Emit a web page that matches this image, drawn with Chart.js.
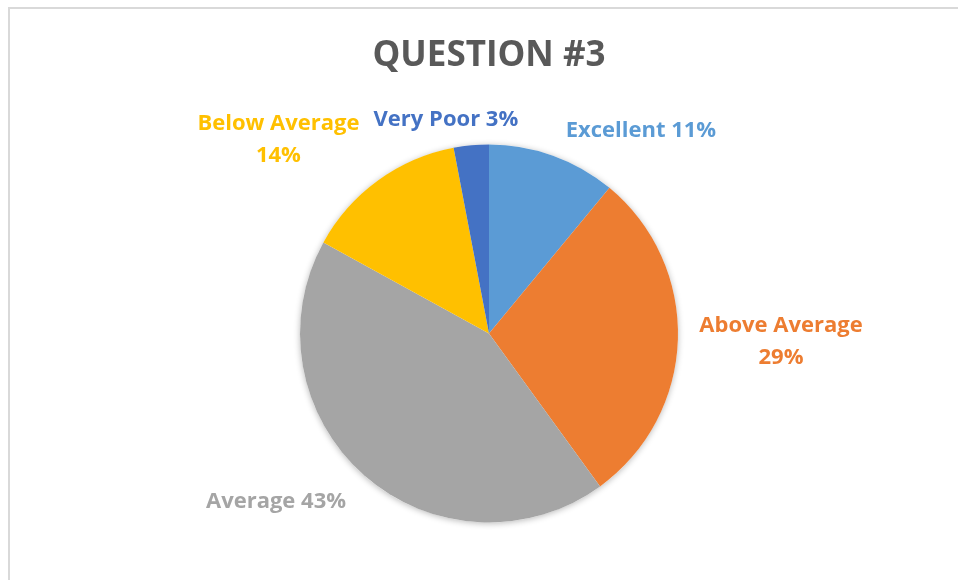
<!DOCTYPE html>
<html>
<head>
<meta charset="utf-8">
<script src="https://cdn.jsdelivr.net/npm/chart.js@4/dist/chart.umd.min.js"></script>
<style>
  html, body { margin: 0; padding: 0; background: #fff; overflow: hidden; }
  #ramka {
    position: absolute; left: 8px; top: 7px; width: 1000px; height: 700px;
    border: 2px solid #d9d9d9; box-sizing: border-box;
  }
  #wrap { position: absolute; left: 0; top: 0; width: 958px; height: 580px; }
</style>
</head>
<body>
<div id="ramka"></div>
<div id="wrap"><canvas id="wykres"></canvas></div>
<script>
// Dane wykresu
const kategorie = ["Excellent", "Above Average", "Average", "Below Average", "Very Poor"];
const procenty = [11, 29, 43, 14, 3];
const kolory = ["#5B9BD5", "#ED7D31", "#A5A5A5", "#FFC000", "#4472C4"];
const tytul = "QUESTION #3";

// Położenie etykiet względem środka koła (w promieniach) i podział na linie
const etykietyPoz = [
  { dx: 0.804, dy: -1.074, linie: ["Excellent 11%"] },
  { dx: 1.545, dy: 0.045, linie: ["Above Average", "29%"] },
  { dx: -1.127, dy: 0.892, linie: ["Average 43%"] },
  { dx: -1.114, dy: -1.026, linie: ["Below Average", "14%"] },
  { dx: -0.228, dy: -1.13, linie: ["Very Poor 3%"] }
];

const FONT = "'Open Sans', Lato, sans-serif";

// Cień pod kołem
const cienKola = {
  id: 'cienKola',
  beforeDatasetsDraw(chart) {
    const arc = chart.getDatasetMeta(0).data[0];
    if (!arc) return;
    const ctx = chart.ctx;
    ctx.save();
    ctx.shadowColor = 'rgba(0,0,0,0.28)';
    ctx.shadowBlur = 6;
    ctx.shadowOffsetY = 1;
    ctx.beginPath();
    ctx.arc(arc.x, arc.y, arc.outerRadius, 0, Math.PI * 2);
    ctx.fillStyle = '#fff';
    ctx.fill();
    ctx.restore();
  }
};

// Tytuł i etykiety danych
const etykiety = {
  id: 'etykiety',
  afterDraw(chart) {
    const ctx = chart.ctx;
    const arc = chart.getDatasetMeta(0).data[0];
    const cx = arc.x, cy = arc.y, r = arc.outerRadius;
    ctx.save();
    ctx.textAlign = 'center';
    ctx.textBaseline = 'middle';

    ctx.fillStyle = '#595959';
    ctx.font = "bold 35px " + FONT;
    ctx.fillText(tytul, cx, 56);

    ctx.font = "bold 22px " + FONT;
    const wys = 32;
    etykietyPoz.forEach((e, i) => {
      ctx.fillStyle = kolory[i];
      const x = cx + e.dx * r;
      const y0 = cy + e.dy * r - (e.linie.length - 1) * wys / 2;
      e.linie.forEach((t, j) => ctx.fillText(t, x, y0 + j * wys));
    });
    ctx.restore();
  }
};

new Chart(document.getElementById('wykres'), {
  type: 'pie',
  data: {
    labels: kategorie,
    datasets: [{
      data: procenty,
      backgroundColor: kolory,
      borderWidth: 0
    }]
  },
  options: {
    responsive: true,
    maintainAspectRatio: false,
    animation: false,
    layout: { padding: { top: 144, bottom: 57, left: 300, right: 280 } },
    plugins: {
      legend: { display: false },
      tooltip: { enabled: false },
      title: { display: false }
    }
  },
  plugins: [cienKola, etykiety]
});
</script>
</body>
</html>
